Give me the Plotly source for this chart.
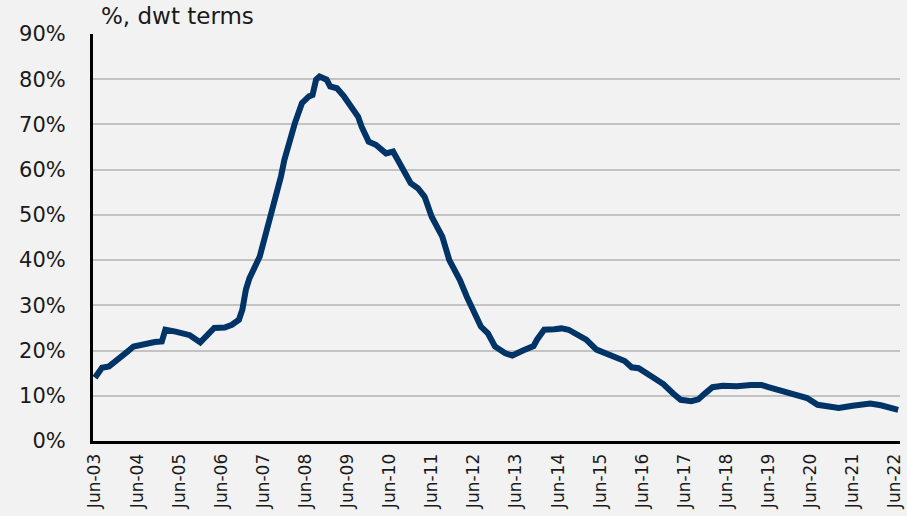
import plotly.graph_objects as go

dates = [
    "2003-06-01", "2003-08-01", "2003-10-01", "2003-12-01", "2004-02-01", "2004-03-01",
    "2004-05-01", "2004-08-01", "2004-11-01", "2005-01-01", "2005-02-01", "2005-05-01",
    "2005-09-01", "2005-12-01", "2006-02-01", "2006-04-01", "2006-07-01", "2006-09-01",
    "2006-11-01", "2006-12-01", "2007-01-01", "2007-02-01", "2007-05-01", "2007-07-01",
    "2007-09-01", "2007-11-01", "2007-12-01", "2008-02-01", "2008-03-01", "2008-05-01",
    "2008-07-01", "2008-08-01", "2008-09-01", "2008-10-01", "2008-12-01", "2009-01-01",
    "2009-03-01", "2009-05-01", "2009-07-01", "2009-09-01", "2009-10-01", "2009-12-01",
    "2010-02-01", "2010-05-01", "2010-07-01", "2010-09-01", "2010-12-01", "2011-02-01",
    "2011-04-01", "2011-06-01", "2011-09-01", "2011-11-01", "2012-02-01", "2012-04-01",
    "2012-06-01", "2012-08-01", "2012-10-01", "2012-12-01", "2013-03-01", "2013-05-01",
    "2013-08-01", "2013-11-01", "2013-12-01", "2014-02-01", "2014-05-01", "2014-07-01",
    "2014-09-01", "2014-12-01", "2015-02-01", "2015-05-01", "2015-08-01", "2015-11-01",
    "2016-01-01", "2016-03-01", "2016-05-01", "2016-09-01", "2016-12-01", "2017-03-01",
    "2017-05-01", "2017-08-01", "2017-10-01", "2017-12-01", "2018-02-01", "2018-05-01",
    "2018-09-01", "2019-01-01", "2019-04-01", "2019-06-01", "2019-09-01", "2020-01-01",
    "2020-05-01", "2020-08-01", "2020-12-01", "2021-02-01", "2021-06-01", "2021-11-01",
    "2022-02-01", "2022-05-01", "2022-07-01",
]
values = [
    14.0, 16.2, 16.5, 17.6, 19.1, 19.6,
    20.9, 21.5, 21.9, 22.0, 24.6, 24.2,
    23.4, 21.8, 23.4, 25.0, 25.1, 25.7,
    26.8, 29.0, 33.5, 36.0, 40.8, 46.5,
    52.6, 58.5, 62.2, 68.1, 70.3, 74.7,
    76.2, 76.5, 79.9, 80.6, 79.9, 78.4,
    78.0, 76.2, 74.0, 71.7, 69.5, 66.2,
    65.5, 63.6, 64.0, 61.4, 57.0, 55.9,
    54.0, 49.6, 45.2, 40.0, 35.6, 31.9,
    28.2, 25.3, 23.8, 20.9, 19.4, 18.9,
    20.0, 21.0, 22.4, 24.6, 24.7, 24.9,
    24.6, 23.1, 22.4, 20.2, 19.2, 18.1,
    17.7, 16.3, 16.1, 14.1, 12.6, 10.4,
    9.1, 8.8, 9.2, 10.6, 11.9, 12.2,
    12.1, 12.4, 12.4, 11.9, 11.3, 10.6,
    9.5, 8.0, 7.5, 7.3, 7.8, 8.3,
    7.9, 7.5, 6.9,
]
y_ticks = [0, 10, 20, 30, 40, 50, 60, 70, 80, 90]
y_tick_labels = ["0%", "10%", "20%", "30%", "40%", "50%", "60%", "70%", "80%", "90%"]
title_text = "%, dwt terms"

FONT = "DejaVu Sans, Arial, sans-serif"
BG = "#f2f2f2"

fig = go.Figure()
fig.add_trace(go.Scatter(
    x=dates, y=values, mode="lines",
    line=dict(color="#003366", width=6),
    hoverinfo="skip",
))

fig.update_layout(
    width=907, height=516,
    margin=dict(l=93, r=7, t=34, b=75, autoexpand=False),
    paper_bgcolor=BG, plot_bgcolor=BG,
    showlegend=False,
    font=dict(family=FONT, color="#1a1a1a", size=20),
    annotations=[dict(
        text=title_text, xref="paper", yref="paper", x=0.008, y=1.0,
        xanchor="left", yanchor="bottom", yshift=3, showarrow=False,
        font=dict(family=FONT, size=23, color="#1a1a1a"),
    )],
)
fig.update_xaxes(
    type="date", automargin=False,
    range=["2003-05-15", "2022-07-17"],
    tickmode="linear", tick0="2003-06-01", dtick="M12",
    tickformat="%b-%y", tickangle=-90,
    ticks="outside", ticklen=3, tickcolor="rgba(0,0,0,0)",
    showgrid=False, showline=True, linecolor="black", linewidth=3,
    zeroline=False,
    tickfont=dict(family=FONT, size=17, color="#1a1a1a"),
)
fig.update_yaxes(
    range=[0, 90], automargin=False,
    tickmode="array", tickvals=y_ticks, ticktext=y_tick_labels,
    ticks="outside", ticklen=20, tickcolor="rgba(0,0,0,0)",
    showgrid=True, gridcolor="#c3c3c3", gridwidth=2,
    showline=True, linecolor="black", linewidth=3,
    zeroline=False,
    tickfont=dict(family=FONT, size=21, color="#1a1a1a"),
)

fig.write_html(
    "out.html",
    config={"displayModeBar": False},
    post_script="document.body.style.margin='0';document.body.style.background='#f2f2f2';",
)
